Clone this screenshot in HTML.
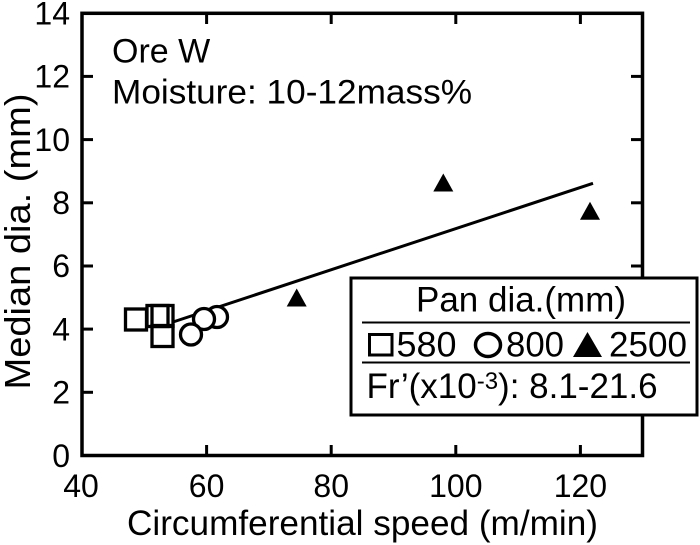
<!DOCTYPE html>
<html>
<head>
<meta charset="utf-8">
<style>
html,body{margin:0;padding:0;background:#fff;}
svg{display:block;}
text{font-family:"Liberation Sans",Arial,sans-serif;fill:#000;}
</style>
</head>
<body>
<svg width="700" height="545" viewBox="0 0 700 545" xmlns="http://www.w3.org/2000/svg">
  <!-- regression line -->
  <line x1="173" y1="322" x2="593" y2="183.3" stroke="#000" stroke-width="3"/>

  <!-- squares -->
  <g fill="none" stroke="#000" stroke-width="3.3">
    <rect x="125.5" y="309" width="21" height="21"/>
    <rect x="147" y="305.5" width="21" height="21"/>
    <rect x="152" y="305.5" width="21" height="21"/>
    <rect x="152" y="325.5" width="21" height="21"/>
  </g>
  <!-- circles -->
  <g fill="#fff" stroke="#000" stroke-width="3.3">
    <circle cx="217" cy="317" r="10.5"/>
    <circle cx="204" cy="319" r="10.5"/>
    <circle cx="191" cy="334.5" r="10.5"/>
  </g>
  <!-- triangles -->
  <g fill="#000">
    <polygon points="296.7,288.5 306.7,306.5 286.7,306.5"/>
    <polygon points="443.3,173.5 453.3,191.5 433.3,191.5"/>
    <polygon points="590,201.8 600,219.8 580,219.8"/>
  </g>

  <!-- ticks -->
  <g stroke="#000" stroke-width="3">
    <line x1="206.6" y1="455.5" x2="206.6" y2="445"/>
    <line x1="331.2" y1="455.5" x2="331.2" y2="445"/>
    <line x1="455.8" y1="455.5" x2="455.8" y2="445"/>
    <line x1="580.4" y1="455.5" x2="580.4" y2="445"/>
    <line x1="206.6" y1="13.3" x2="206.6" y2="24"/>
    <line x1="331.2" y1="13.3" x2="331.2" y2="24"/>
    <line x1="455.8" y1="13.3" x2="455.8" y2="24"/>
    <line x1="580.4" y1="13.3" x2="580.4" y2="24"/>
    <line x1="82" y1="392.3" x2="93" y2="392.3"/>
    <line x1="82" y1="329.1" x2="93" y2="329.1"/>
    <line x1="82" y1="266" x2="93" y2="266"/>
    <line x1="82" y1="202.8" x2="93" y2="202.8"/>
    <line x1="82" y1="139.6" x2="93" y2="139.6"/>
    <line x1="82" y1="76.4" x2="93" y2="76.4"/>
    <line x1="642.5" y1="392.3" x2="631" y2="392.3"/>
    <line x1="642.5" y1="329.1" x2="631" y2="329.1"/>
    <line x1="642.5" y1="266" x2="631" y2="266"/>
    <line x1="642.5" y1="202.8" x2="631" y2="202.8"/>
    <line x1="642.5" y1="139.6" x2="631" y2="139.6"/>
    <line x1="642.5" y1="76.4" x2="631" y2="76.4"/>
  </g>

  <!-- frame -->
  <rect x="82" y="13.3" width="560.5" height="442.2" fill="none" stroke="#000" stroke-width="3.5"/>

  <!-- y tick labels -->
  <g font-size="32" text-anchor="end">
    <text x="70" y="467">0</text>
    <text x="70" y="403.5">2</text>
    <text x="70" y="340.3">4</text>
    <text x="70" y="277.2">6</text>
    <text x="70" y="214">8</text>
    <text x="70" y="150.8">10</text>
    <text x="70" y="87.6">12</text>
    <text x="70" y="24.5">14</text>
  </g>
  <!-- x tick labels -->
  <g font-size="32" text-anchor="middle">
    <text x="81" y="497">40</text>
    <text x="206.6" y="497">60</text>
    <text x="331.2" y="497">80</text>
    <text x="455.8" y="497">100</text>
    <text x="580.4" y="497">120</text>
  </g>

  <!-- axis titles -->
  <text x="127" y="535" font-size="35" textLength="471" lengthAdjust="spacingAndGlyphs">Circumferential speed (m/min)</text>
  <text transform="translate(30,241.5) rotate(-90)" font-size="36" text-anchor="middle" textLength="296" lengthAdjust="spacingAndGlyphs">Median dia. (mm)</text>

  <!-- annotations -->
  <text x="112" y="62.7" font-size="34">Ore W</text>
  <text x="112" y="103.3" font-size="34" textLength="360" lengthAdjust="spacingAndGlyphs">Moisture: 10-12mass%</text>

  <!-- legend -->
  <rect x="351" y="278" width="346" height="137" fill="#fff" stroke="#000" stroke-width="3"/>
  <text x="416" y="311.7" font-size="35" textLength="210" lengthAdjust="spacingAndGlyphs">Pan dia.(mm)</text>
  <line x1="362" y1="322.5" x2="690" y2="322.5" stroke="#000" stroke-width="2"/>
  <line x1="362" y1="362.5" x2="690" y2="362.5" stroke="#000" stroke-width="2"/>
  <rect x="369.5" y="334.5" width="22.5" height="20.5" fill="none" stroke="#000" stroke-width="3"/>
  <text x="396.5" y="356.7" font-size="35" textLength="60" lengthAdjust="spacingAndGlyphs">580</text>
  <ellipse cx="488" cy="345" rx="12.5" ry="11.5" fill="none" stroke="#000" stroke-width="3.5"/>
  <text x="506" y="356.7" font-size="35" textLength="58" lengthAdjust="spacingAndGlyphs">800</text>
  <polygon points="587.5,332 602,357 573,357" fill="#000"/>
  <text x="609" y="356.7" font-size="35" textLength="78" lengthAdjust="spacingAndGlyphs">2500</text>
  <text x="366.5" y="398" font-size="35">Fr’(x10<tspan font-size="24" dy="-9">-3</tspan><tspan dy="9">): 8.1-21.6</tspan></text>
</svg>
</body>
</html>
